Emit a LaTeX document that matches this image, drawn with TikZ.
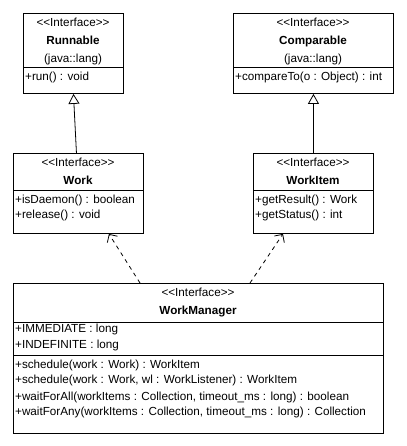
\documentclass[tikz,border=0pt]{standalone}
\usepackage{fontspec}
\setmainfont[Ligatures=NoCommon]{Liberation Sans}
\usetikzlibrary{arrows.meta}
\newcommand{\stereo}{<{}<Interface>{}>}
\begin{document}
\begin{tikzpicture}[x=1pt,y=-1pt,
  box/.style={draw=black, line width=0.9pt, anchor=north west, inner sep=0pt},
  txt/.style={font=\fontsize{11.7}{13}\selectfont, inner sep=0pt, anchor=mid west},
  ctr/.style={font=\fontsize{11.7}{13}\selectfont, inner sep=0pt, anchor=mid},
  ttl/.style={font=\fontsize{11.7}{13}\selectfont\bfseries, inner sep=0pt, anchor=mid},
  sep/.style={draw=black, line width=0.9pt},
  gen/.style={draw=black, line width=0.8pt, -{Triangle[open, length=10pt, width=11pt]}},
  dep/.style={draw=black, line width=0.8pt, dash pattern=on 4pt off 4pt, -{Straight Barb[length=6pt, width=12pt]}}
]
\useasboundingbox (0,0) rectangle (406,446);
\fill[white] (0,0) rectangle (406,446);

% Runnable
\node[box, minimum width=100pt, minimum height=80pt] (runnable) at (23,13) {};
\node[ctr] (runnableSt) at (73,24) {\stereo};
\node[ttl] (runnableTi) at (73,42) {Runnable};
\node[ctr] (runnablePk) at (73,60) {(java::lang)};
\draw[sep] (23,67) -- (123,67);
\node[txt] (runnableOp) at (25,78) {+run() : void};

% Comparable
\node[box, minimum width=160pt, minimum height=80pt] (comparable) at (233,13) {};
\node[ctr] (comparableSt) at (313,24) {\stereo};
\node[ttl] (comparableTi) at (313,42) {Comparable};
\node[ctr] (comparablePk) at (313,60) {(java::lang)};
\draw[sep] (233,67) -- (393,67);
\node[txt] (comparableOp) at (235,78) {+compareTo(o : Object) : int};

% Work
\node[box, minimum width=130pt, minimum height=80pt] (work) at (13,153) {};
\node[ctr] (workSt) at (78,164) {\stereo};
\node[ttl] (workTi) at (78,182) {Work};
\draw[sep] (13,190) -- (143,190);
\node[txt] (workOp1) at (15,201) {+isDaemon() : boolean};
\node[txt] (workOp2) at (15,216) {+release() : void};

% WorkItem
\node[box, minimum width=120pt, minimum height=80pt] (workitem) at (253,153) {};
\node[ctr] (workitemSt) at (313,164) {\stereo};
\node[ttl] (workitemTi) at (313,182) {WorkItem};
\draw[sep] (253,190) -- (373,190);
\node[txt] (workitemOp1) at (255,201) {+getResult() : Work};
\node[txt] (workitemOp2) at (255,216) {+getStatus() : int};

% WorkManager
\node[box, minimum width=370pt, minimum height=150pt] (wm) at (13,283) {};
\node[ctr] (wmSt) at (198,294) {\stereo};
\node[ttl] (wmTi) at (198,312) {WorkManager};
\draw[sep] (13,322) -- (383,322);
\node[txt] (wmA1) at (15,330) {+IMMEDIATE : long};
\node[txt] (wmA2) at (15,346) {+INDEFINITE : long};
\draw[sep] (13,355) -- (383,355);
\node[txt] (wmO1) at (15,366) {+schedule(work : Work) : WorkItem};
\node[txt] (wmO2) at (15,381) {+schedule(work : Work, wl : WorkListener) : WorkItem};
\node[txt] (wmO3) at (15,398) {+waitForAll(workItems : Collection, timeout\_ms : long) : boolean};
\node[txt] (wmO4) at (15,413) {+waitForAny(workItems : Collection, timeout\_ms : long) : Collection};

% connectors
\draw[gen] ([xshift=-2pt]work.north) -- (runnable.south);
\draw[gen] (workitem.north) -- (comparable.south);
\draw[dep] ([xshift=127pt]wm.north west) -- ([xshift=-35pt]work.south east);
\draw[dep] ([xshift=237pt]wm.north west) -- ([xshift=30pt]workitem.south west);
\end{tikzpicture}
\end{document}
